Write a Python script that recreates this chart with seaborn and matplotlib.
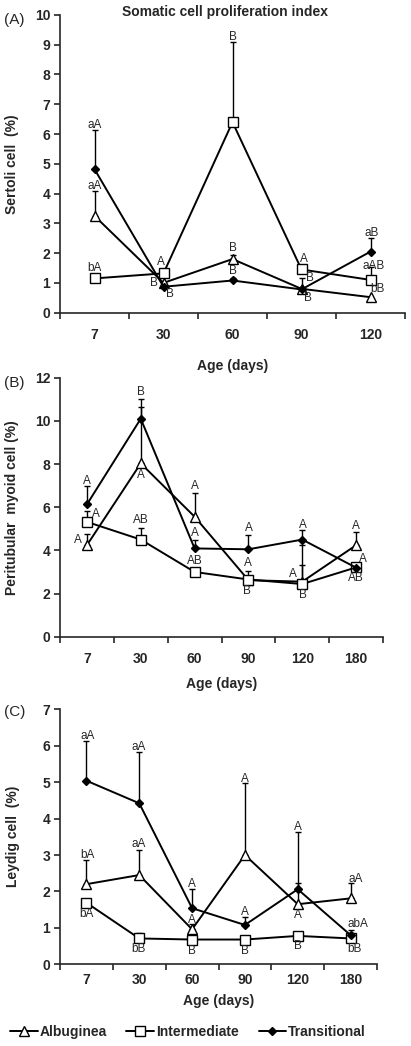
import numpy as np
import pandas as pd
import seaborn as sns
import matplotlib
matplotlib.use("Agg")
import matplotlib.pyplot as plt
from matplotlib.lines import Line2D

#Ages (days) on the x axis
ages_a = ['7', '30', '60', '90', '120']
ages_bc = ['7', '30', '60', '90', '120', '180']

#(A) Sertoli cell proliferation (%) - mean and upper error
sertoli_alb = [3.25, 1.0, 1.8, 0.8, 0.52]
sertoli_alb_err = [0.85, 0.0, 0.15, 0.35, 0.0]
sertoli_int = [1.15, 1.32, 6.4, 1.45, 1.1]
sertoli_int_err = [0.0, 0.0, 2.7, 0.0, 0.45]
sertoli_tra = [4.82, 0.87, 1.08, 0.78, 2.05]
sertoli_tra_err = [1.33, 0.0, 0.1, 0.0, 0.45]

#(B) Peritubular myoid cell (%)
myoid_alb = [4.24, 8.03, 5.56, 2.62, 2.55, 4.24]
myoid_alb_err = [0.5, 2.6, 1.08, 0.0, 1.7, 0.62]
myoid_int = [5.32, 4.5, 3.0, 2.65, 2.44, 3.21]
myoid_int_err = [0.5, 0.52, 0.2, 0.38, 0.86, 0.0]
myoid_tra = [6.13, 10.1, 4.09, 4.05, 4.5, 3.2]
myoid_tra_err = [0.85, 0.9, 0.4, 0.65, 0.45, 0.0]

#(C) Leydig cell (%)
leydig_alb = [2.2, 2.45, 0.96, 3.0, 1.65, 1.81]
leydig_alb_err = [0.67, 0.69, 0.15, 1.97, 1.99, 0.41]
leydig_int = [1.69, 0.71, 0.68, 0.68, 0.78, 0.71]
leydig_int_err = [0.0, 0.14, 0.0, 0.0, 0.12, 0.0]
leydig_tra = [5.04, 4.42, 1.54, 1.08, 2.06, 0.8]
leydig_tra_err = [1.08, 1.42, 0.52, 0.22, 0.16, 0.15]

#significance letters (series, age index, text)
sertoli_letters = [('tra', 0, 'aA'), ('alb', 0, 'aA'), ('int', 0, 'bA'),
                   ('int', 1, 'A'), ('alb', 1, 'B'), ('tra', 1, 'B'),
                   ('int', 2, 'B'), ('alb', 2, 'B'), ('tra', 2, 'B'),
                   ('int', 3, 'A'), ('alb', 3, 'B'), ('tra', 3, 'B'),
                   ('tra', 4, 'aB'), ('int', 4, 'aAB'), ('alb', 4, 'bB')]
myoid_letters = [('tra', 0, 'A'), ('int', 0, 'A'), ('alb', 0, 'A'),
                 ('tra', 1, 'B'), ('alb', 1, 'A'), ('int', 1, 'AB'),
                 ('alb', 2, 'A'), ('tra', 2, 'A'), ('int', 2, 'AB'),
                 ('tra', 3, 'A'), ('int', 3, 'A'), ('alb', 3, 'B'),
                 ('tra', 4, 'A'), ('alb', 4, 'A'), ('int', 4, 'B'),
                 ('alb', 5, 'A'), ('tra', 5, 'A'), ('int', 5, 'AB')]
leydig_letters = [('tra', 0, 'aA'), ('alb', 0, 'bA'), ('tra', 1, 'aA'),
                  ('alb', 1, 'aA'), ('tra', 2, 'A'), ('alb', 2, 'A'),
                  ('alb', 3, 'A'), ('tra', 3, 'A'), ('alb', 4, 'A'),
                  ('alb', 4, 'A'), ('alb', 5, 'aA'), ('tra', 5, 'abA'),
                  ('int', 0, 'bA'), ('int', 1, 'bB'), ('int', 2, 'B'),
                  ('int', 3, 'B'), ('int', 4, 'B'), ('int', 5, 'bB')]

#where each letter sits: anchor (top of error bar / marker), offset in pixels
sertoli_letter_pos = [('top', 0, 5), ('top', 0, 5), ('mark', 0, 10),
                      ('mark', -3, 11), ('mark', -10, 0), ('mark', 6, -7),
                      ('top', 0, 5), ('top', 0, 7), ('top', 0, 7),
                      ('mark', 2, 10), ('top', 8, 0), ('mark', 6, -9),
                      ('top', 1, 5), ('top', 3, 1), ('mark', 7, 8)]
myoid_letter_pos = [('top', 0, 5), ('top', 9, -3), ('top', -9, -6),
                    ('top', 0, 7), ('mark', 0, -12), ('top', 0, 8),
                    ('top', 0, 7), ('top', 0, 7), ('top', 0, 7),
                    ('top', 0, 7), ('top', -1, 8), ('mark', -1, -11),
                    ('top', 1, 5), ('mark', -9, 8), ('mark', 1, -11),
                    ('top', 0, 6), ('mark', 7, 9), ('mark', 0, -11)]
leydig_letter_pos = [('top', 1, 5), ('top', 1, 5), ('top', -1, 5),
                     ('top', -1, 6), ('top', 0, 5), ('top', 0, 4),
                     ('top', 0, 4), ('top', 0, 5), ('top', 0, 5),
                     ('mark', 0, -11), ('top', 5, 4), ('top', 7, 6),
                     ('mark', 0, -11), ('mark', -1, -11), ('mark', 0, -11),
                     ('mark', 0, -11), ('mark', 0, -10), ('mark', 4, -11)]

sns.set_style('ticks')
plt.rcParams['font.family'] = ['Liberation Sans', 'DejaVu Sans']
plt.rcParams['axes.linewidth'] = 1.2

styles = {
    'alb': dict(marker='^', markersize=7.5, markerfacecolor='white', markeredgecolor='black', markeredgewidth=1.0),
    'int': dict(marker='s', markersize=7.5, markerfacecolor='white', markeredgecolor='black', markeredgewidth=1.0),
    'tra': dict(marker='D', markersize=4.5, markerfacecolor='black', markeredgecolor='black', markeredgewidth=1.0),
}
names = {'alb': 'Albuginea', 'int': 'Intermediate', 'tra': 'Transitional'}


def draw_panel(ax, ages, data, letters, letter_pos, ymax, ystep, ylabel, xpad, tickpad, ylab_x):
    pos = np.arange(len(ages))
    for key in ['alb', 'int', 'tra']:
        vals, err = np.array(data[key][0]), np.array(data[key][1])
        m = err > 0
        ax.errorbar(pos[m], vals[m], yerr=[np.zeros(m.sum()), err[m]], fmt='none',
                    ecolor='black', elinewidth=1.0, capsize=2.5, capthick=1.0, zorder=2)
    for key in ['alb', 'int', 'tra']:
        df = pd.DataFrame({'age': pos, 'val': data[key][0]})
        sns.lineplot(data=df, x='age', y='val', ax=ax, color='black', lw=1.4,
                     zorder=3, clip_on=False, **styles[key])
    for (key, i, txt), (anchor, dx, dy) in zip(letters, letter_pos):
        v = data[key][0][i]
        if anchor == 'top':
            v = v + data[key][1][i]
        ax.annotate(txt, (pos[i], v), xytext=(dx, dy), textcoords='offset pixels',
                    ha='center', va='center', fontsize=8.5, zorder=5)
    ax.set_xlim(-0.5, len(ages) - 0.5)
    ax.set_ylim(0, ymax)
    ax.set_yticks(np.arange(0, ymax + 0.01, ystep))
    ax.set_xticks(pos)
    ax.set_xticklabels(ages)
    ax.set_xticks(np.arange(-0.5, len(ages)), minor=True)
    ax.tick_params(axis='x', which='major', length=0, pad=tickpad)
    ax.tick_params(axis='x', which='minor', length=4, width=1.2, direction='out')
    ax.tick_params(axis='y', length=4, width=1.2, direction='out', pad=3)
    for lab in ax.get_xticklabels() + ax.get_yticklabels():
        lab.set_fontweight('bold')
        lab.set_fontsize(10)
    ax.set_xlabel('Age (days)', fontweight='bold', fontsize=10, labelpad=xpad)
    ax.set_ylabel(ylabel, fontweight='bold', fontsize=10)
    ax.yaxis.set_label_coords(ylab_x, 0.5)
    sns.despine(ax=ax)


fig = plt.figure(figsize=(4.11, 10.46), dpi=100)
ax_a = fig.add_axes([0.146, 0.7011, 0.8394, 0.2846])
ax_b = fig.add_axes([0.146, 0.3913, 0.7859, 0.2476])
ax_c = fig.add_axes([0.146, 0.0781, 0.7713, 0.2438])

draw_panel(ax_a, ages_a,
           {'alb': (sertoli_alb, sertoli_alb_err), 'int': (sertoli_int, sertoli_int_err),
            'tra': (sertoli_tra, sertoli_tra_err)},
           sertoli_letters, sertoli_letter_pos, 10, 1, 'Sertoli cell  (%)', 12, 11, -41 / 345)
draw_panel(ax_b, ages_bc,
           {'alb': (myoid_alb, myoid_alb_err), 'int': (myoid_int, myoid_int_err),
            'tra': (myoid_tra, myoid_tra_err)},
           myoid_letters, myoid_letter_pos, 12, 2, 'Peritubular  myoid cell (%)', 8, 11, -41 / 323)
draw_panel(ax_c, ages_bc,
           {'alb': (leydig_alb, leydig_alb_err), 'int': (leydig_int, leydig_int_err),
            'tra': (leydig_tra, leydig_tra_err)},
           leydig_letters, leydig_letter_pos, 7, 1, 'Leydig cell  (%)', 5, 6, -40 / 317)

fig.text(225 / 411, 1 - 12 / 1046, 'Somatic cell proliferation index', ha='center', va='center',
         fontsize=10, fontweight='bold')
fig.text(4 / 411, 1 - 20 / 1046, '(A)', ha='left', va='center', fontsize=11)
fig.text(4 / 411, 1 - 383 / 1046, '(B)', ha='left', va='center', fontsize=11)
fig.text(4 / 411, 1 - 712 / 1046, '(C)', ha='left', va='center', fontsize=11)

handles = [Line2D([0], [0], color='black', lw=1.4, **styles[k]) for k in ['alb', 'int', 'tra']]
leg = fig.legend(handles, [names[k] for k in ['alb', 'int', 'tra']], loc='center',
                 bbox_to_anchor=(188 / 411, 1 - 1032 / 1046), ncol=3, frameon=False,
                 handlelength=2.0, handletextpad=0.15, columnspacing=1.4,
                 prop={'weight': 'bold', 'size': 10})

fig.savefig('out.png', dpi=100)
